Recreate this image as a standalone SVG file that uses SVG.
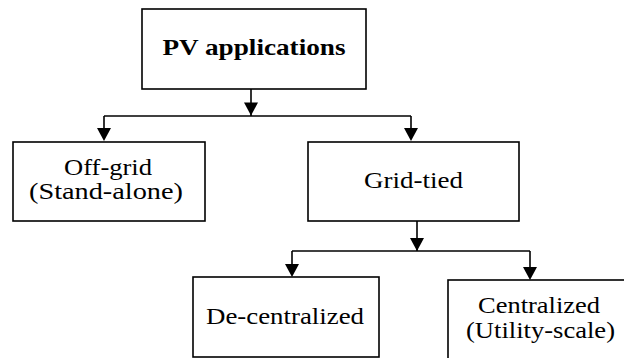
<svg xmlns="http://www.w3.org/2000/svg" width="624" height="358" viewBox="0 0 624 358">
  <style>
    .box { fill: #ffffff; stroke: #000000; stroke-width: 1.6; }
    .lbl { font-size: 24px; fill: #000000; text-anchor: middle; }
    .bold { font-weight: bold; }
    .wire { fill: none; stroke: #000000; stroke-width: 1.6; }
    .head { fill: #000000; stroke: none; }
  </style>
  <defs>
    <!-- downward arrowhead, tip at the origin -->
    <path id="head-down" class="head" d="M-7,-13 L7,-13 L0,0 Z"/>
  </defs>
  <rect width="624" height="358" fill="#ffffff"/>

  <g id="connectors">
    <!-- root to first level -->
    <path class="wire" d="M251,89 V116"/>
    <use href="#head-down" x="251" y="115.5"/>
    <path class="wire" d="M104,116 H411"/>
    <path class="wire" d="M104,116 V130"/>
    <use href="#head-down" x="104" y="141"/>
    <path class="wire" d="M411,116 V130"/>
    <use href="#head-down" x="411" y="141"/>
    <!-- grid-tied to second level -->
    <path class="wire" d="M417,221 V251"/>
    <use href="#head-down" x="417" y="251"/>
    <path class="wire" d="M292,251 H530"/>
    <path class="wire" d="M292,251 V266"/>
    <use href="#head-down" x="292" y="277"/>
    <path class="wire" d="M530,251 V268"/>
    <use href="#head-down" x="530" y="280"/>
  </g>

  <g id="pv-applications" font-family="Times New Roman, Liberation Serif, DejaVu Serif, serif">
    <rect class="box" x="142" y="9" width="224" height="80"/>
    <text class="lbl bold" x="254" y="55" textLength="183" lengthAdjust="spacingAndGlyphs">PV applications</text>
  </g>

  <g id="off-grid" font-family="Times New Roman, Liberation Serif, DejaVu Serif, serif">
    <rect class="box" x="13" y="142" width="192" height="79"/>
    <text class="lbl" x="108" y="175" textLength="88" lengthAdjust="spacingAndGlyphs">Off-grid</text>
    <text class="lbl" x="106" y="199" textLength="154" lengthAdjust="spacingAndGlyphs">(Stand-alone)</text>
  </g>

  <g id="grid-tied" font-family="Times New Roman, Liberation Serif, DejaVu Serif, serif">
    <rect class="box" x="308" y="142" width="211" height="79"/>
    <text class="lbl" x="413.5" y="188" textLength="99" lengthAdjust="spacingAndGlyphs">Grid-tied</text>
  </g>

  <g id="de-centralized" font-family="Times New Roman, Liberation Serif, DejaVu Serif, serif">
    <rect class="box" x="193" y="277" width="186" height="80"/>
    <text class="lbl" x="285" y="324" textLength="158" lengthAdjust="spacingAndGlyphs">De-centralized</text>
  </g>

  <g id="centralized" font-family="Times New Roman, Liberation Serif, DejaVu Serif, serif">
    <rect class="box" x="448" y="280" width="186" height="82"/>
    <text class="lbl" x="539" y="313" textLength="122" lengthAdjust="spacingAndGlyphs">Centralized</text>
    <text class="lbl" x="540.5" y="338" textLength="149" lengthAdjust="spacingAndGlyphs">(Utility-scale)</text>
  </g>
</svg>
